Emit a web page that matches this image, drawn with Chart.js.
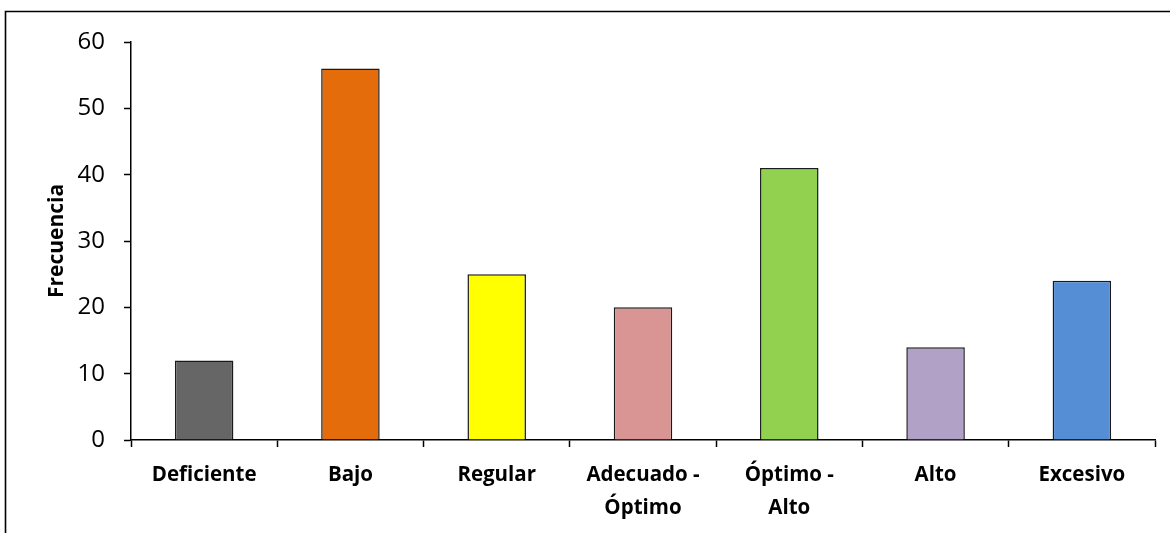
<!DOCTYPE html>
<html>
<head>
<meta charset="utf-8">
<script src="https://cdn.jsdelivr.net/npm/chart.js@4.4.1/dist/chart.umd.min.js"></script>
<style>
  html, body { margin: 0; padding: 0; background: #fff; }
  #wrap { width: 1170px; height: 533px; position: relative; }
</style>
</head>
<body>
<div id="wrap"><canvas id="chart"></canvas></div>
<script>
// Categories, frequencies and bar colours
const categories = ['Deficiente', 'Bajo', 'Regular', ['Adecuado -', 'Óptimo'], ['Óptimo -', 'Alto'], 'Alto', 'Excesivo'];
const frecuencias = [12, 56, 25, 20, 41, 14, 24];
const barColors = ['#666666', '#E46C0A', '#FFFF00', '#D99594', '#92D050', '#B2A1C7', '#558ED5'];
const yTicks = [0, 10, 20, 30, 40, 50, 60];

const FONT = '"Open Sans", Lato, sans-serif';

// Frame line along the left and top edges of the canvas
const framePlugin = {
  id: 'frame',
  beforeDraw(chart) {
    const ctx = chart.ctx;
    ctx.save();
    ctx.strokeStyle = '#000';
    ctx.lineWidth = 1.6;
    ctx.beginPath();
    ctx.moveTo(5.5, chart.height);
    ctx.lineTo(5.5, 11.5);
    ctx.lineTo(chart.width, 11.5);
    ctx.stroke();
    ctx.restore();
  }
};

new Chart(document.getElementById('chart'), {
  type: 'bar',
  data: {
    labels: categories,
    datasets: [{
      data: frecuencias,
      backgroundColor: barColors,
      borderColor: '#1a1a1a',
      borderWidth: 1.5,
      categoryPercentage: 1.0,
      barPercentage: 0.4
    }]
  },
  options: {
    responsive: true,
    maintainAspectRatio: false,
    animation: false,
    layout: { padding: { top: 42, right: 15, left: 0, bottom: 0 } },
    plugins: {
      legend: { display: false },
      tooltip: { enabled: false }
    },
    scales: {
      x: {
        afterFit(scale) { scale.height = 93; },
        grid: {
          offset: true,
          drawOnChartArea: false,
          drawTicks: true,
          tickLength: 7,
          tickColor: '#000',
          tickWidth: 1.5
        },
        border: { display: true, color: '#000', width: 1.5 },
        ticks: {
          color: '#000',
          padding: 12,
          maxRotation: 0,
          autoSkip: false,
          font: { family: FONT, size: 20.5, weight: 'bold', lineHeight: 1.6 }
        }
      },
      y: {
        min: 0,
        max: 60,
        afterFit(scale) { scale.width = 131; },
        afterBuildTicks(scale) { scale.ticks = yTicks.map(v => ({ value: v })); },
        grid: {
          drawOnChartArea: false,
          drawTicks: true,
          tickLength: 7,
          tickColor: '#000',
          tickWidth: 1.5
        },
        border: { display: true, color: '#000', width: 1.5 },
        ticks: {
          color: '#000',
          padding: 19,
          font: { family: FONT, size: 24 }
        },
        title: {
          display: true,
          text: 'Frecuencia',
          color: '#000',
          padding: { top: 44, bottom: 0 },
          font: { family: FONT, size: 21, weight: 'bold' }
        }
      }
    }
  },
  plugins: [framePlugin]
});
</script>
</body>
</html>
